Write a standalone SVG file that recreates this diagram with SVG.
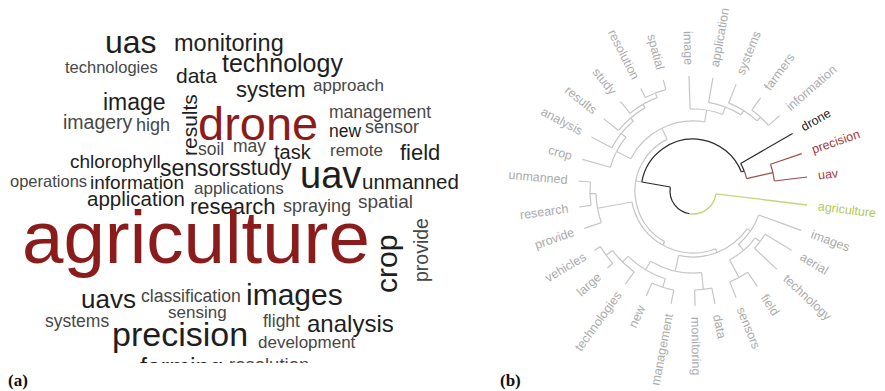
<svg xmlns="http://www.w3.org/2000/svg" width="885" height="391" viewBox="0 0 885 391">
<style>
.w{font-family:"Liberation Sans",Arial,sans-serif}
.d{fill:#1e1e1e}.g{fill:#474747}.r{fill:#8b1c1c}
.ln{fill:none;stroke:#c6c6c6;stroke-width:1.2}
.bk{fill:none;stroke:#2a2a2a;stroke-width:1.2}
.rd{fill:none;stroke:#a04a4a;stroke-width:1.2}
.gn{fill:none;stroke:#c4d47c;stroke-width:1.3}
.lb{font-family:"Liberation Sans",Arial,sans-serif;font-size:12.5px;fill:#ababab;dominant-baseline:central}
.cap{font-family:"Liberation Serif","Times New Roman",serif;font-weight:bold;font-size:17px;fill:#111}
</style>
<defs>
<clipPath id="cc"><rect x="0" y="30" width="470" height="333"/></clipPath>
</defs>
<rect width="885" height="391" fill="#fff"/>
<g id="wordcloud" class="w" clip-path="url(#cc)">
<text class="d" x="105" y="53" font-size="32">uas</text>
<text class="d" x="174" y="51" font-size="23.5">monitoring</text>
<text class="g" x="65" y="73" font-size="16.5">technologies</text>
<text class="d" x="222" y="72" font-size="25">technology</text>
<text class="d" x="176" y="83" font-size="21">data</text>
<text class="d" x="236" y="97" font-size="22">system</text>
<text class="g" x="313" y="91" font-size="17">approach</text>
<text class="d" x="103" y="110" font-size="23">image</text>
<text class="g" x="63" y="129" font-size="19.5">imagery</text>
<text class="g" x="136" y="131" font-size="18">high</text>
<text class="d" font-size="21" transform="translate(197,156) rotate(-90)">results</text>
<text class="r" x="198" y="140" font-size="47">drone</text>
<text class="g" x="329" y="118" font-size="17.5">management</text>
<text class="d" x="329" y="137" font-size="17.5">new</text>
<text class="g" x="365" y="133" font-size="18">sensor</text>
<text class="g" x="198" y="155" font-size="17.5">soil</text>
<text class="g" x="233" y="152" font-size="17.5">may</text>
<text class="d" x="274" y="159" font-size="20">task</text>
<text class="g" x="330" y="156" font-size="17">remote</text>
<text class="d" x="400" y="160" font-size="22">field</text>
<text class="d" x="70" y="168" font-size="19">chlorophyll</text>
<text class="d" x="160" y="176" font-size="23">sensors</text>
<text class="d" x="240" y="175" font-size="21.5">study</text>
<text class="d" x="300" y="188" font-size="38">uav</text>
<text class="d" x="362" y="189" font-size="20.5">unmanned</text>
<text class="g" x="10" y="187" font-size="16.5">operations</text>
<text class="d" x="90" y="189" font-size="19">information</text>
<text class="g" x="194" y="194" font-size="17">applications</text>
<text class="d" x="87" y="206" font-size="20.5">application</text>
<text class="d" x="190" y="214" font-size="22">research</text>
<text class="g" x="283" y="212" font-size="18">spraying</text>
<text class="g" x="358" y="208" font-size="19">spatial</text>
<text class="r" x="22" y="263" font-size="74.5">agriculture</text>
<text class="d" font-size="30" transform="translate(397,293) rotate(-90)">crop</text>
<text class="g" font-size="19.5" transform="translate(428,282) rotate(-90)">provide</text>
<text class="d" x="81" y="308" font-size="26">uavs</text>
<text class="g" x="141" y="302" font-size="17.6">classification</text>
<text class="d" x="246" y="305" font-size="30">images</text>
<text class="g" x="168" y="318" font-size="17">sensing</text>
<text class="g" x="45" y="327" font-size="17.5">systems</text>
<text class="d" x="112" y="346" font-size="34">precision</text>
<text class="g" x="263" y="327" font-size="17.5">flight</text>
<text class="d" x="307" y="332" font-size="24">analysis</text>
<text class="g" x="258" y="348" font-size="17">development</text>
<text class="d" x="140" y="376" font-size="25">farming</text>
<text class="g" x="229" y="371" font-size="18.5">resolution</text>
</g>
<text class="cap" x="8" y="386">(a)</text>
<text class="cap" x="500" y="386">(b)</text>
<g id="dendrogram" transform="translate(693,191)">
<g id="connectors">
<g class="ln">
<line x1="70" x2="115" transform="rotate(20)"/>
<line x1="84" x2="115" transform="rotate(31)"/>
<line x1="84" x2="115" transform="rotate(43)"/>
<line x1="98" x2="115" transform="rotate(56)"/>
<line x1="98" x2="115" transform="rotate(68)"/>
<line x1="99" x2="115" transform="rotate(79)"/>
<line x1="99" x2="115" transform="rotate(89)"/>
<line x1="101" x2="115" transform="rotate(101)"/>
<line x1="101" x2="115" transform="rotate(114)"/>
<line x1="100" x2="115" transform="rotate(126)"/>
<line x1="108" x2="115" transform="rotate(138)"/>
<line x1="108" x2="115" transform="rotate(149)"/>
<line x1="97" x2="115" transform="rotate(161)"/>
<line x1="103" x2="115" transform="rotate(172)"/>
<line x1="103" x2="115" transform="rotate(185)"/>
<line x1="86" x2="115" transform="rotate(196)"/>
<line x1="92" x2="115" transform="rotate(208)"/>
<line x1="96" x2="115" transform="rotate(219)"/>
<line x1="100" x2="115" transform="rotate(231)"/>
<line x1="105" x2="115" transform="rotate(243)"/>
<line x1="105" x2="115" transform="rotate(255)"/>
<line x1="82" x2="115" transform="rotate(268)"/>
<line x1="90" x2="115" transform="rotate(280)"/>
<line x1="95" x2="115" transform="rotate(292)"/>
<line x1="100" x2="115" transform="rotate(306)"/>
<line x1="100" x2="115" transform="rotate(319)"/>
<line x1="78" x2="84" transform="rotate(37)"/>
<line x1="78" x2="98" transform="rotate(62)"/>
<line x1="70" x2="78" transform="rotate(49.5)"/>
<line x1="66" x2="70" transform="rotate(34.75)"/>
<line x1="82" x2="99" transform="rotate(84)"/>
<line x1="100" x2="108" transform="rotate(143.5)"/>
<line x1="92" x2="100" transform="rotate(134.75)"/>
<line x1="92" x2="101" transform="rotate(107.5)"/>
<line x1="82" x2="92" transform="rotate(121.1)"/>
<line x1="66" x2="82" transform="rotate(102.55)"/>
<line x1="62" x2="66" transform="rotate(68.65)"/>
<line x1="97" x2="103" transform="rotate(178.5)"/>
<line x1="62" x2="97" transform="rotate(169.75)"/>
<line x1="58" x2="62" transform="rotate(119.2)"/>
<line x1="100" x2="105" transform="rotate(249)"/>
<line x1="96" x2="100" transform="rotate(240)"/>
<line x1="92" x2="96" transform="rotate(229.5)"/>
<line x1="86" x2="92" transform="rotate(218.75)"/>
<line x1="70" x2="86" transform="rotate(207.4)"/>
<line x1="95" x2="100" transform="rotate(312.5)"/>
<line x1="90" x2="95" transform="rotate(302.25)"/>
<line x1="82" x2="90" transform="rotate(291.1)"/>
<line x1="70" x2="82" transform="rotate(279.6)"/>
<line x1="58" x2="70" transform="rotate(243.5)"/>
<line x1="52" x2="58" transform="rotate(190)"/>
<circle r="84" pathLength="360" stroke-dasharray="12 360" transform="rotate(31)"/>
<circle r="98" pathLength="360" stroke-dasharray="12 360" transform="rotate(56)"/>
<circle r="78" pathLength="360" stroke-dasharray="25 360" transform="rotate(37)"/>
<circle r="70" pathLength="360" stroke-dasharray="29.5 360" transform="rotate(20)"/>
<circle r="99" pathLength="360" stroke-dasharray="10 360" transform="rotate(79)"/>
<circle r="108" pathLength="360" stroke-dasharray="11 360" transform="rotate(138)"/>
<circle r="100" pathLength="360" stroke-dasharray="17.5 360" transform="rotate(126)"/>
<circle r="101" pathLength="360" stroke-dasharray="13 360" transform="rotate(101)"/>
<circle r="92" pathLength="360" stroke-dasharray="27.25 360" transform="rotate(107.5)"/>
<circle r="82" pathLength="360" stroke-dasharray="37.1 360" transform="rotate(84)"/>
<circle r="66" pathLength="360" stroke-dasharray="67.8 360" transform="rotate(34.75)"/>
<circle r="103" pathLength="360" stroke-dasharray="13 360" transform="rotate(172)"/>
<circle r="97" pathLength="360" stroke-dasharray="17.5 360" transform="rotate(161)"/>
<circle r="62" pathLength="360" stroke-dasharray="101.1 360" transform="rotate(68.65)"/>
<circle r="105" pathLength="360" stroke-dasharray="12 360" transform="rotate(243)"/>
<circle r="100" pathLength="360" stroke-dasharray="18 360" transform="rotate(231)"/>
<circle r="96" pathLength="360" stroke-dasharray="21 360" transform="rotate(219)"/>
<circle r="92" pathLength="360" stroke-dasharray="21.5 360" transform="rotate(208)"/>
<circle r="86" pathLength="360" stroke-dasharray="22.75 360" transform="rotate(196)"/>
<circle r="100" pathLength="360" stroke-dasharray="13 360" transform="rotate(306)"/>
<circle r="95" pathLength="360" stroke-dasharray="20.5 360" transform="rotate(292)"/>
<circle r="90" pathLength="360" stroke-dasharray="22.25 360" transform="rotate(280)"/>
<circle r="82" pathLength="360" stroke-dasharray="23.1 360" transform="rotate(268)"/>
<circle r="70" pathLength="360" stroke-dasharray="72.2 360" transform="rotate(207.4)"/>
<circle r="58" pathLength="360" stroke-dasharray="124.3 360" transform="rotate(119.2)"/>
</g>
<g class="bk">
<circle r="23" pathLength="360" stroke-dasharray="91.5 360" transform="rotate(98.5)"/>
<line x1="23" x2="52" transform="rotate(190)"/>
<circle r="52" pathLength="360" stroke-dasharray="148.5 360" transform="rotate(190)"/>
<line x1="52" x2="55" transform="rotate(338.5)"/>
<circle r="55" pathLength="360" stroke-dasharray="8.5 360" transform="rotate(330)"/>
<line x1="55" x2="115" transform="rotate(330)"/>
</g>
<g class="rd">
<circle r="55" pathLength="360" stroke-dasharray="8.5 360" transform="rotate(338.5)"/>
<line x1="55" x2="82" transform="rotate(347)"/>
<circle r="82" pathLength="360" stroke-dasharray="12 360" transform="rotate(341)"/>
<line x1="82" x2="115" transform="rotate(341)"/>
<line x1="82" x2="115" transform="rotate(353)"/>
</g>
<g class="gn">
<circle r="23" pathLength="360" stroke-dasharray="91.5 360" transform="rotate(7)"/>
<line x1="23" x2="115" transform="rotate(7)"/>
</g>
</g>
<g id="leaf-labels" class="lb">
<text transform="rotate(7) translate(126,0)" style="fill:#b3c85a">agriculture</text>
<text transform="rotate(20) translate(126,0)">images</text>
<text transform="rotate(31) translate(126,0)">aerial</text>
<text transform="rotate(43) translate(126,0)">technology</text>
<text transform="rotate(56) translate(126,0)">field</text>
<text transform="rotate(68) translate(126,0)">sensors</text>
<text transform="rotate(79) translate(126,0)">data</text>
<text transform="rotate(89) translate(126,0)">monitoring</text>
<g text-anchor="end">
<text transform="rotate(101) translate(125,0) rotate(180)">management</text>
<text transform="rotate(114) translate(126,0) rotate(180)">new</text>
<text transform="rotate(126) translate(126,0) rotate(180)">technologies</text>
<text transform="rotate(138) translate(126,0) rotate(180)">large</text>
<text transform="rotate(149) translate(126,0) rotate(180)">vehicles</text>
<text transform="rotate(161) translate(126,0) rotate(180)">provide</text>
<text transform="rotate(172) translate(126,0) rotate(180)">research</text>
<text transform="rotate(185) translate(126,0) rotate(180)">unmanned</text>
<text transform="rotate(196) translate(126,0) rotate(180)">crop</text>
<text transform="rotate(208) translate(126,0) rotate(180)">analysis</text>
<text transform="rotate(219) translate(126,0) rotate(180)">results</text>
<text transform="rotate(231) translate(126,0) rotate(180)">study</text>
<text transform="rotate(243) translate(126,0) rotate(180)">resolution</text>
<text transform="rotate(255) translate(126,0) rotate(180)">spatial</text>
<text transform="rotate(268) translate(126,0) rotate(180)">image</text>
</g>
<text transform="rotate(280) translate(126,0)">application</text>
<text transform="rotate(292) translate(126,0)">systems</text>
<text transform="rotate(306) translate(126,0)">farmers</text>
<text transform="rotate(319) translate(126,0)">information</text>
<text transform="rotate(330) translate(126,0)" style="fill:#222">drone</text>
<text transform="rotate(341) translate(126,0)" style="fill:#a04040">precision</text>
<text transform="rotate(353) translate(126,0)" style="fill:#a04040">uav</text>
</g>
</g>
</svg>
